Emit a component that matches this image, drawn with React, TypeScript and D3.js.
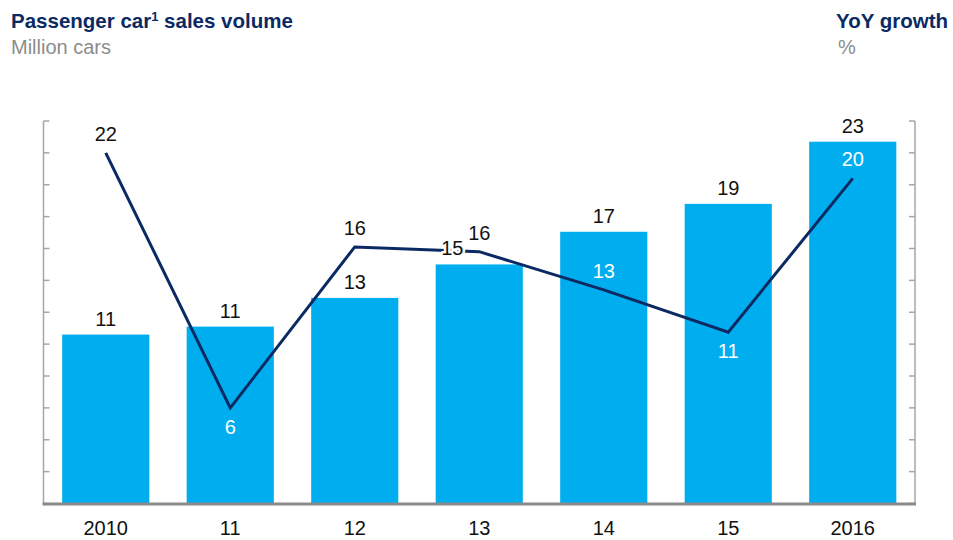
import React from 'react';
import * as d3 from 'd3';

const categories = ['2010', '11', '12', '13', '14', '15', '2016'];
const salesVolume = [10.6, 11.1, 12.9, 15.0, 17.05, 18.8, 22.7];
const salesLabels = ['11', '11', '13', '15', '17', '19', '23'];
const yoyGrowth = [22.0, 6.0, 16.1, 15.8, 13.4, 10.75, 20.4];
const growthLabels = ['22', '6', '16', '16', '13', '11', '20'];
const axisTicks = [0, 2, 4, 6, 8, 10, 12, 14, 16, 18, 20, 22, 24];

// label placement config (not data)
const growthLabelSide = [-1, 1, -1, -1, -1, 1, -1];
const salesLabelShift = [0, 0, 0, -27, 0, 0, 0];

const W = 953;
const H = 540;
const FONT = "Arial, 'Liberation Sans', Helvetica, sans-serif";
const NAVY = '#0b2a63';
const BAR = '#00aeef';
const AXIS = '#a6a6a6';

export default function App() {
  const left = 43.5;
  const right = 915;
  const top = 121;
  const base = 503.5;

  const x = d3.scaleBand<string>().domain(categories).range([left, right]).paddingInner(0.3).paddingOuter(0.15);
  const y = d3.scaleLinear().domain([0, 24]).range([base, top]);
  const y2 = d3.scaleLinear().domain([0, 24]).range([base, top]);

  const cx = (i: number) => (x(categories[i]) as number) + x.bandwidth() / 2;

  const line = d3
    .line<number>()
    .x((_, i) => cx(i))
    .y((d) => y2(d));

  return (
    <svg width={W} height={H} style={{ position: 'absolute', left: 0, top: 0, background: '#fff' }} fontFamily={FONT}>
      {/* titles */}
      <text x={11} y={28} fontSize={20.5} fontWeight="bold" fill={NAVY}>
        Passenger car<tspan fontSize={13} dy={-7}>1</tspan>
        <tspan dy={7}> sales volume</tspan>
      </text>
      <text x={11} y={54} fontSize={20} fill="#8c8c8c">
        Million cars
      </text>
      <text x={948} y={28} fontSize={20.5} fontWeight="bold" fill={NAVY} textAnchor="end">
        YoY growth
      </text>
      <text x={838} y={54} fontSize={20} fill="#8c8c8c">
        %
      </text>

      {/* bars */}
      {salesVolume.map((v, i) => (
        <rect
          key={'b' + i}
          x={x(categories[i])}
          y={y(v)}
          width={x.bandwidth()}
          height={base - y(v)}
          fill={BAR}
        />
      ))}

      {/* axes */}
      <line x1={left} x2={left} y1={top} y2={base} stroke={AXIS} strokeWidth={1.5} />
      <line x1={right} x2={right} y1={top} y2={base} stroke={AXIS} strokeWidth={1.5} />
      {axisTicks.map((t) => (
        <g key={'t' + t}>
          <line x1={left} x2={left + 6} y1={y(t)} y2={y(t)} stroke={AXIS} strokeWidth={1.5} />
          <line x1={right - 6} x2={right} y1={y2(t)} y2={y2(t)} stroke={AXIS} strokeWidth={1.5} />
        </g>
      ))}
      <line x1={left - 1} x2={right + 1} y1={base + 0.5} y2={base + 0.5} stroke="#8a8a8a" strokeWidth={3} />

      {/* growth line */}
      <path d={line(yoyGrowth) || ''} fill="none" stroke={NAVY} strokeWidth={3} strokeLinejoin="miter" />

      {/* sales labels (white halo knocks out the line behind them) */}
      {salesVolume.map((v, i) => (
        <text
          key={'sl' + i}
          x={cx(i) + salesLabelShift[i]}
          y={y(v) - 16}
          dy="0.35em"
          fontSize={20}
          textAnchor="middle"
          fill="#111"
          stroke="#ffffff"
          strokeWidth={5}
          paintOrder="stroke"
          strokeLinejoin="round"
        >
          {salesLabels[i]}
        </text>
      ))}

      {/* growth labels */}
      {yoyGrowth.map((v, i) => {
        const ly = y2(v) + growthLabelSide[i] * 19;
        const inside = ly > y(salesVolume[i]);
        return (
          <text
            key={'gl' + i}
            x={cx(i)}
            y={ly}
            dy="0.35em"
            fontSize={20}
            textAnchor="middle"
            fill={inside ? '#ffffff' : '#111'}
          >
            {growthLabels[i]}
          </text>
        );
      })}

      {/* x labels */}
      {categories.map((c, i) => (
        <text key={'x' + i} x={cx(i)} y={528} dy="0.35em" fontSize={20} textAnchor="middle" fill="#111">
          {c}
        </text>
      ))}
    </svg>
  );
}
